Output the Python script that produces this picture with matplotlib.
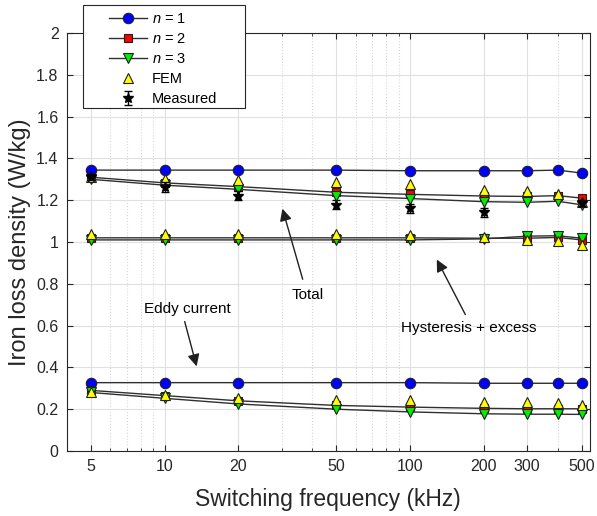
import numpy as np
import matplotlib
matplotlib.use('Agg')
import matplotlib.pyplot as plt
from matplotlib.patches import Rectangle
from matplotlib.ticker import FixedLocator, LogLocator, NullFormatter

plt.rcParams['font.family'] = ['Liberation Sans', 'DejaVu Sans']
plt.rcParams['mathtext.fontset'] = 'custom'
plt.rcParams['mathtext.rm'] = 'Liberation Sans'
plt.rcParams['mathtext.it'] = 'Liberation Sans:italic'

# Frequências de chaveamento (kHz)
freq = [5, 10, 20, 50, 100, 200, 300, 400, 500]

# Perda total
total_n1 = [1.344, 1.344, 1.344, 1.344, 1.341, 1.341, 1.341, 1.344, 1.330]
total_n2 = [1.310, 1.283, 1.265, 1.238, 1.228, 1.220, 1.218, 1.222, 1.210]
total_n3 = [1.300, 1.272, 1.252, 1.222, 1.208, 1.193, 1.190, 1.195, 1.178]
total_fem = [1.310, 1.302, 1.297, 1.286, 1.276, 1.249, 1.244, 1.228, 1.190]

# Histerese + excesso
hyst_n2 = [1.020, 1.020, 1.020, 1.020, 1.020, 1.018, 1.018, 1.022, 1.010]
hyst_n3 = [1.010, 1.010, 1.010, 1.010, 1.010, 1.015, 1.028, 1.030, 1.018]
hyst_fem = [1.040, 1.040, 1.040, 1.036, 1.034, 1.022, 1.008, 1.003, 0.985]

# Correntes parasitas
eddy_n1 = [0.327, 0.327, 0.327, 0.327, 0.327, 0.324, 0.324, 0.324, 0.324]
eddy_n2 = [0.290, 0.265, 0.240, 0.218, 0.210, 0.204, 0.202, 0.202, 0.202]
eddy_n3 = [0.280, 0.252, 0.225, 0.200, 0.187, 0.178, 0.176, 0.176, 0.175]
eddy_fem = [0.280, 0.268, 0.252, 0.244, 0.244, 0.236, 0.233, 0.230, 0.220]

# Medições
freq_med = [5, 10, 20, 50, 100, 200, 500]
total_med = [1.310, 1.262, 1.222, 1.178, 1.161, 1.142, 1.188]
erro_med = [0.015, 0.025, 0.022, 0.022, 0.022, 0.022, 0.015]

fig = plt.figure(figsize=(5.97, 5.16), dpi=100)
ax = fig.add_axes([0.112, 0.126, 0.876, 0.810])

linha = '#303030'
est_n1 = dict(color=linha, lw=1.0, marker='o', ms=7.5, mfc='#0000ff', mec='#202020', mew=0.8)
est_n2 = dict(color=linha, lw=1.0, marker='s', ms=5.5, mfc='#ff0000', mec='#202020', mew=0.8)
est_n3 = dict(color=linha, lw=1.0, marker='v', ms=7.5, mfc='#00ee00', mec='#202020', mew=0.8)
est_fem = dict(ls='none', marker='^', ms=7.5, mfc='#ffff00', mec='#202020', mew=0.8)

ax.plot(freq, total_n1, label='$n$ = 1', **est_n1)
ax.plot(freq, eddy_n1, **est_n1)
ax.plot(freq, total_n2, label='$n$ = 2', **est_n2)
ax.plot(freq, hyst_n2, **est_n2)
ax.plot(freq, eddy_n2, **est_n2)
ax.plot(freq, total_n3, label='$n$ = 3', **est_n3)
ax.plot(freq, hyst_n3, **est_n3)
ax.plot(freq, eddy_n3, **est_n3)
ax.plot(freq, total_fem, label='FEM', **est_fem)
ax.plot(freq, hyst_fem, **est_fem)
ax.plot(freq, eddy_fem, **est_fem)
ax.errorbar(freq_med, total_med, yerr=erro_med, fmt='*', color='black', ms=7.5,
            ecolor='black', elinewidth=1.0, capsize=3, capthick=1.0, label='Measured', zorder=5)

ax.set_xscale('log')
ax.set_xlim(4, 540)
ax.set_ylim(0, 2)
ax.xaxis.set_major_locator(FixedLocator([5, 10, 20, 50, 100, 200, 300, 500]))
ax.set_xticklabels(['5', '10', '20', '50', '100', '200', '300', '500'])
ax.xaxis.set_minor_locator(LogLocator(base=10, subs=np.arange(2, 10)))
ax.xaxis.set_minor_formatter(NullFormatter())
ax.set_yticks(np.arange(0, 2.01, 0.2))
ax.set_yticklabels(['0', '0.2', '0.4', '0.6', '0.8', '1', '1.2', '1.4', '1.6', '1.8', '2'])

ax.grid(which='major', color='#e0e0e0', lw=0.8, ls='-')
ax.grid(which='minor', axis='x', color='#d8d8d8', lw=0.8, ls=':')
ax.set_axisbelow(True)
ax.tick_params(which='both', direction='in', top=True, right=True, labelsize=11.5,
               colors='#262626', pad=6)
ax.tick_params(which='major', length=4)
ax.tick_params(which='minor', length=2.5)
for s in ax.spines.values():
    s.set_color('#262626')
    s.set_linewidth(0.8)

ax.set_xlabel('Switching frequency (kHz)', fontsize=16.5, color='#262626')
ax.set_ylabel('Iron loss density (W/kg)', fontsize=17, color='#262626')
ax.xaxis.set_label_coords(0.5, -0.088)
ax.yaxis.set_label_coords(-0.068, 0.5)

seta = dict(arrowstyle='-|>', color='#202020', lw=1.0, mutation_scale=18)
ax.annotate('', xy=(30, 1.172), xytext=(36.8, 0.809), arrowprops=seta)
ax.text(38.3, 0.746, 'Total', ha='center', va='center', fontsize=11)
ax.annotate('', xy=(127, 0.928), xytext=(170, 0.641), arrowprops=seta)
ax.text(173, 0.589, 'Hysteresis + excess', ha='center', va='center', fontsize=11)
ax.annotate('', xy=(13.6, 0.392), xytext=(12.0, 0.632), arrowprops=seta)
ax.text(12.4, 0.679, 'Eddy current', ha='center', va='center', fontsize=11)

# Legenda no estilo MATLAB: moldura larga por cima do topo dos eixos
fig.patches.append(Rectangle((83 / 597, 1 - 108 / 516), 162 / 597, 103 / 516,
                             transform=fig.transFigure, facecolor='white',
                             edgecolor='#262626', lw=0.8, zorder=9))
leg = fig.legend(loc='upper left', bbox_to_anchor=(0.163, 1.0), fontsize=10.5,
                 frameon=False, handlelength=2.6, handletextpad=0.35,
                 borderpad=0.3, labelspacing=0.42)
leg.set_zorder(10)

fig.savefig('out.png', dpi=100)
